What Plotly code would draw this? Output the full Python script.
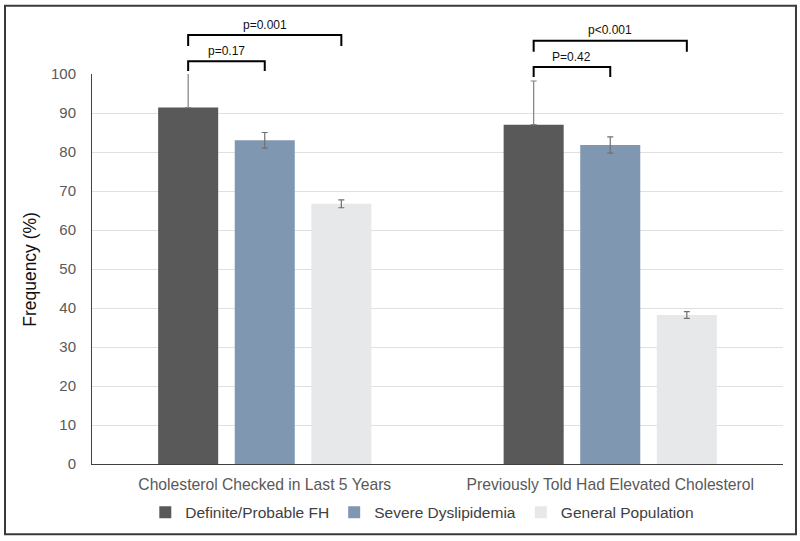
import plotly.graph_objects as go

categories = ["Cholesterol Checked in Last 5 Years", "Previously Told Had Elevated Cholesterol"]
series_names = ["Definite/Probable FH", "Severe Dyslipidemia", "General Population"]
fh_values = [91.4, 87.0]
fh_err_plus = [10.0, 11.2]
sd_values = [83.0, 81.8]
sd_err = [2.0, 2.1]
gp_values = [66.7, 38.2]
gp_err = [1.0, 0.85]
y_ticks = [0, 10, 20, 30, 40, 50, 60, 70, 80, 90, 100]

# p-value brackets: (group index, from bar, to bar, label, bracket level, tick end level, label level)
brackets = [
    (0, 0, 1, "p=0.17", 103.3, 100.8, 105.8),
    (0, 0, 2, "p=0.001", 110.0, 107.2, 112.6),
    (1, 0, 1, "P=0.42", 101.8, 99.2, 104.3),
    (1, 0, 2, "p<0.001", 108.5, 105.7, 111.2),
]

colors = ["#595959", "#8097b1", "#e7e8ea"]
BARGAP = 0.335
BARGROUPGAP = 0.216
FONT = "Liberation Sans, Arial, sans-serif"
x = list(range(len(categories)))

fig = go.Figure()
fig.add_trace(go.Bar(
    x=x, y=fh_values, name=series_names[0], marker=dict(color=colors[0], line=dict(width=0)),
    error_y=dict(type="data", array=fh_err_plus, arrayminus=[0] * len(fh_values), symmetric=False,
                 color="#808080", thickness=1.2, width=3)))
fig.add_trace(go.Bar(
    x=x, y=sd_values, name=series_names[1], marker=dict(color=colors[1], line=dict(width=0)),
    error_y=dict(type="data", array=sd_err, color="#707070", thickness=1.2, width=3)))
fig.add_trace(go.Bar(
    x=x, y=gp_values, name=series_names[2], marker=dict(color=colors[2], line=dict(width=0)),
    error_y=dict(type="data", array=gp_err, color="#707070", thickness=1.2, width=3)))

slot = (1 - BARGAP) / 3
offsets = [-slot, 0, slot]
shapes = []
annotations = []
for g, a, b, label, lvl, tick, tl in brackets:
    x0 = x[g] + offsets[a]
    x1 = x[g] + offsets[b]
    path = f"M {x0},{tick/100} L {x0},{lvl/100} L {x1},{lvl/100} L {x1},{tick/100}"
    shapes.append(dict(type="path", xref="x", yref="paper", path=path,
                       line=dict(color="black", width=2)))
    annotations.append(dict(x=(x0 + x1) / 2, y=tl / 100, xref="x", yref="paper", text=label,
                            showarrow=False, font=dict(size=12, color="#111111", family=FONT),
                            xanchor="center", yanchor="middle"))

# outer frame of the figure
shapes.append(dict(type="rect", xref="paper", yref="paper", x0=-0.1259, x1=1.0188, y0=-0.1803, y1=1.1752,
                   line=dict(color="#3a3a3a", width=2), fillcolor="rgba(0,0,0,0)", layer="above"))

annotations.append(dict(x=-0.09, y=0.5, xref="paper", yref="paper", text="Frequency (%)",
                        textangle=-90, showarrow=False, font=dict(size=17.5, color="#111111", family=FONT),
                        xanchor="center", yanchor="middle"))

fig.update_layout(
    width=800, height=541,
    margin=dict(l=92, r=17, t=73.5, b=76.5, autoexpand=False),
    paper_bgcolor="white", plot_bgcolor="white",
    barmode="group", bargap=BARGAP, bargroupgap=BARGROUPGAP,
    font=dict(family=FONT, color="#595959"),
    shapes=shapes, annotations=annotations,
    legend=dict(orientation="h", x=0.478, xanchor="center", y=-0.125, yanchor="middle",
                font=dict(size=15.5, color="#404040", family=FONT), itemwidth=30,
                traceorder="normal"),
    xaxis=dict(range=[-0.5, 1.5], tickvals=x, ticktext=categories, showgrid=False, automargin=False,
               showline=True, linecolor="#404040", linewidth=1, ticks="",
               tickfont=dict(size=15.7, color="#595959"), ticklabelstandoff=6, zeroline=False),
    yaxis=dict(range=[0, 100], tickvals=y_ticks, showgrid=True, gridcolor="#e0e0e0", gridwidth=1,
               automargin=False,
               showline=True, linecolor="#404040", linewidth=1, ticks="", zeroline=False,
               tickfont=dict(size=15, color="#595959"), ticklabelstandoff=12),
)

fig.write_html("out.html", config={"displayModeBar": False},
               post_script="document.body.style.margin='0';document.body.style.padding='0';")
